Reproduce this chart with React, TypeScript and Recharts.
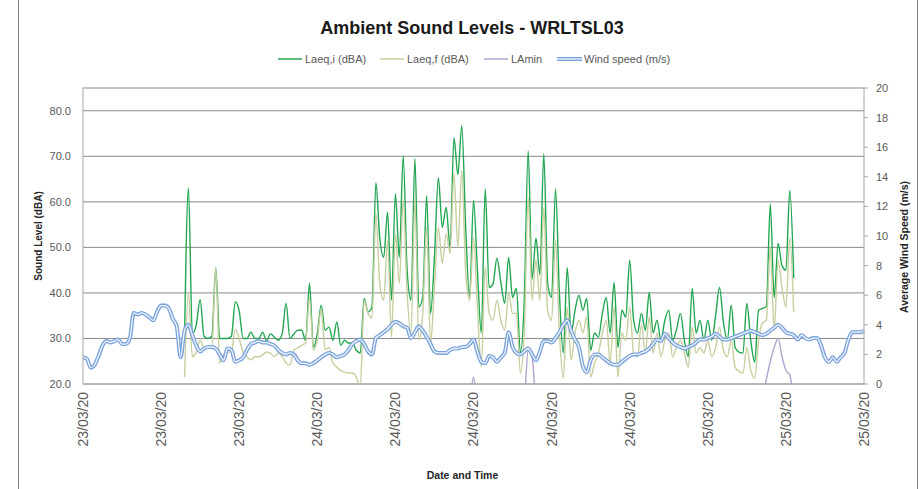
import React from "react";
import { LineChart, Line, XAxis, YAxis, CartesianGrid } from "recharts";

// x values are quarter-hour steps from the first reading (0..200)
const dateLabels = [
  "23/03/20", "23/03/20", "23/03/20",
  "24/03/20", "24/03/20", "24/03/20", "24/03/20", "24/03/20",
  "25/03/20", "25/03/20", "25/03/20",
];
const labelTicks = [0, 20, 40, 60, 80, 100, 120, 140, 160, 180, 200];
const soundTicks = [20, 30, 40, 50, 60, 70, 80];
const windTicks = [0, 2, 4, 6, 8, 10, 12, 14, 16, 18, 20];

// sound level readings begin at step 26
const soundStart = 26;

const laeqI = [
  30, 63, 31, 33, 38.5, 30.5, 30, 30.5, 45.5, 30,
  30, 30, 30.5, 38, 36, 30, 30, 31.4, 30, 30,
  31.4, 29.5, 31, 30.3, 29.6, 31, 37.7, 30, 31, 31.8,
  31.8, 29.6, 42.1, 28, 31, 37.3, 31.8, 32.5, 29.6, 33.6,
  28.5, 29.6, 29, 29, 27.4, 26.8, 38.8, 35.8, 36.9, 64.2,
  52, 47.8, 57.7, 38.4, 61.8, 47.8, 70.1, 45, 38.4, 69.5,
  36.9, 39, 61.4, 35.5, 47.8, 65.3, 54.4, 58.8, 50, 74.1,
  66, 76.7, 54.4, 39, 60.3, 45, 31.2, 62.9, 41.2, 42,
  47.6, 42.3, 37.7, 47.8, 39, 41, 26.8, 38.4, 71.2, 43,
  52, 44, 70.6, 42, 39, 62.9, 39.9, 26.8, 45.6, 31.2,
  36.2, 39.5, 36.2, 38.8, 27.4, 31.2, 30.3, 35.5, 39, 31.2,
  42.3, 28, 36.2, 34.7, 47.2, 34, 31.2, 35.5, 31.8, 40.1,
  31.2, 34, 29.6, 34, 36.2, 29.6, 32, 35.5, 29.6, 26,
  41, 31.2, 34, 29.6, 34, 29.6, 35, 41.2, 33.6, 29.6,
  37.3, 28, 27, 26.8, 37.7, 29.6, 24.8, 36.2, 36.6, 37,
  59.6, 39, 50.9, 46, 45, 62.5, 43.2,
];

const laeqF = [
  21.5, 40, 26, 27, 29.6, 28, 28, 28, 45.4, 24.6,
  26.5, 27, 27, 32, 30, 27, 26, 25.3, 26, 26,
  26.4, 27, 26.8, 26, 26.8, 26, 24.6, 24.2, 27.4, 27.9,
  28.5, 29, 39, 27.5, 29.6, 36.6, 27.5, 28, 24.6, 23.7,
  23, 22.6, 22.4, 22.4, 21.5, 19, 38.4, 35.5, 34.5, 57.4,
  42, 38.4, 51.5, 30.3, 53, 42.1, 60.3, 40, 31.2, 60.3,
  29.6, 35.5, 54.4, 29, 41.2, 54.4, 46.5, 53, 48.7, 66.2,
  50, 66.9, 44.3, 38.4, 52.2, 36.9, 23.7, 45.6, 35.5, 34,
  38.4, 34, 31.8, 39.9, 35.5, 35.5, 22.4, 31.2, 61, 38.4,
  47.2, 38.4, 58.8, 36, 34, 51.5, 31.2, 21.3, 36.9, 25.3,
  31.2, 34, 31.2, 34.7, 21.5, 24.6, 26.8, 31.2, 34, 24.6,
  36.9, 21.5, 31.2, 29.6, 36.9, 26.8, 26, 33, 26.8, 34.7,
  26.8, 31.2, 26, 29.6, 31.2, 26, 28, 29.6, 26.8, 23.7,
  32.5, 26.8, 28, 26.8, 29.6, 26, 28, 32.5, 27.4, 26,
  29.6, 23.7, 22.8, 22.4, 28, 23, 21.3, 29.6, 33.4, 34,
  50, 31.8, 47.2, 41.2, 36.9, 52, 35.8,
];

const laMin = [
  17.2, 16.8, 16.5, 17.0, 17.4, 16.9, 16.6, 17.1, 17.5, 16.8,
  16.4, 16.9, 17.2, 16.7, 16.3, 16.8, 17.0, 16.6, 16.9, 17.3,
  16.8, 16.5, 16.9, 16.4, 16.0, 15.7, 15.4, 15.9, 16.2, 16.5,
  16.1, 15.8, 16.4, 15.9, 16.2, 16.6, 15.8, 15.5, 15.2, 15.0,
  14.8, 14.6, 14.5, 14.3, 14.2, 14.0, 15.8, 16.5, 17.0, 17.8,
  17.4, 17.9, 18.2, 17.6, 18.1, 17.8, 18.4, 17.5, 17.9, 18.3,
  17.4, 17.8, 18.2, 17.3, 17.9, 18.4, 18.0, 18.3, 17.7, 18.5,
  18.1, 18.6, 17.6, 16.9, 21.5, 16.4, 15.6, 17.2, 17.5, 17.0,
  17.6, 17.3, 16.8, 17.5, 17.1, 17.3, 15.2, 16.6, 27.5, 26.0,
  16.8, 17.2, 17.9, 17.1, 16.8, 17.6, 16.5, 15.1, 16.9, 15.8,
  16.4, 16.8, 16.5, 16.9, 14.9, 15.6, 16.0, 16.6, 16.9, 15.7,
  16.8, 14.8, 16.2, 16.1, 16.7, 15.8, 15.6, 16.5, 15.9, 16.6,
  15.8, 16.3, 15.6, 16.0, 16.2, 15.5, 15.8, 16.1, 15.7, 15.0,
  16.3, 15.7, 15.9, 15.6, 16.0, 15.4, 15.8, 16.4, 15.9, 15.5,
  16.0, 15.1, 14.8, 14.6, 15.6, 14.9, 14.4, 15.5, 17.0, 21.0,
  25.0, 28.0, 30.0, 26.0, 23.0, 22.0, 16.0,
];

const windSpeed = [
  1.8, 1.7, 1.1, 1.3, 1.9, 2.6, 2.9, 2.8, 2.9, 3.0,
  2.7, 2.7, 3.1, 4.8, 4.7, 4.8, 4.7, 4.5, 4.3, 4.9,
  5.3, 5.3, 5.1, 4.4, 3.9, 1.8, 3.6, 4.0, 3.3, 2.6,
  2.2, 2.4, 2.5, 2.5, 2.4, 2.0, 1.6, 2.4, 2.3, 1.5,
  1.6, 1.8, 2.3, 2.7, 2.8, 2.9, 2.8, 2.8, 2.7, 2.6,
  2.3, 2.1, 2.0, 2.1, 2.0, 1.6, 1.4, 1.4, 1.3, 1.4,
  1.6, 1.8, 2.0, 2.1, 2.0, 1.8, 1.9, 2.0, 2.3, 2.7,
  2.9, 3.0, 2.7, 2.2, 2.0, 3.1, 3.3, 3.5, 3.7, 4.0,
  4.2, 4.1, 3.9, 3.8, 3.1, 3.5, 3.9, 3.6, 3.2, 2.7,
  2.2, 2.1, 2.1, 2.1, 2.3, 2.4, 2.4, 2.5, 2.5, 2.7,
  3.0, 2.2, 1.5, 1.4, 1.9, 1.8, 1.5, 1.8, 2.1, 3.5,
  2.5, 2.1, 2.0, 2.2, 2.4, 2.0, 1.6, 2.2, 2.9, 2.9,
  2.8, 3.1, 3.5, 4.0, 4.3, 3.6, 3.0, 2.5, 1.2, 0.8,
  1.6, 2.0, 2.0, 1.8, 1.6, 1.4, 1.3, 1.3, 1.5, 1.7,
  1.9, 2.0, 2.0, 2.1, 2.2, 2.4, 2.7, 3.0, 2.9, 3.4,
  3.1, 2.8, 2.6, 2.5, 2.4, 2.5, 2.6, 2.8, 3.0, 3.0,
  3.1, 3.2, 3.4, 3.2, 3.0, 3.0, 3.1, 3.2, 3.3, 3.4,
  3.5, 3.6, 3.5, 3.4, 3.3, 3.4, 3.6, 3.8, 4.0, 3.8,
  3.5, 3.4, 3.3, 3.0, 3.3, 3.1, 3.0, 3.1, 3.1, 2.6,
  1.8, 1.5, 1.8, 1.5, 1.8, 2.1, 3.0, 3.5, 3.5, 3.5,
  3.6,
];

const pick = (arr: number[], i: number) => {
  const k = i - soundStart;
  return k >= 0 && k < arr.length ? arr[k] : null;
};

const chartData = windSpeed.map((wind, i) => ({
  t: i,
  wind,
  laeqI: pick(laeqI, i),
  laeqF: pick(laeqF, i),
  laMin: pick(laMin, i),
}));

const GREEN = "#22a652";
const KHAKI = "#c6cf9e";
const LAVENDER = "#b4a2cf";
const BLUE = "#7ba3dc";
const BLUE_INNER = "#f2f6fc";
const TICK = "#595959";
const FONT = "'Liberation Sans', Arial, sans-serif";

const legendItems = [
  { name: "Laeq,i (dBA)", color: GREEN, x: 278 },
  { name: "Laeq,f (dBA)", color: KHAKI, x: 380 },
  { name: "LAmin", color: LAVENDER, x: 484 },
  { name: "Wind speed (m/s)", color: BLUE, x: 557, double: true },
];

const DateTick = ({ x, y, payload }: any) => (
  <g transform={`translate(${x},${y}) rotate(-90)`}>
    <text textAnchor="end" dy="0.35em" fill={TICK} fontSize={14}>
      {dateLabels[labelTicks.indexOf(payload.value)]}
    </text>
  </g>
);

const App = () => {
  return (
    <div
      style={{
        position: "absolute",
        left: 0,
        top: 0,
        width: 920,
        height: 489,
        background: "#fff",
        fontFamily: FONT,
      }}
    >
      <LineChart
        width={920}
        height={489}
        data={chartData}
        margin={{ top: 88, right: 0, bottom: 0, left: 0 }}
      >
        <CartesianGrid
          yAxisId="left"
          vertical={false}
          stroke="#8a8a8a"
          strokeWidth={1}
        />
        <XAxis
          dataKey="t"
          type="number"
          domain={[0, 200]}
          ticks={labelTicks}
          height={105}
          tick={<DateTick />}
          tickLine={false}
          axisLine={{ stroke: "#a6a6a6" }}
          label={{
            content: ({ viewBox }: any) => (
              <text
                x={viewBox.x + viewBox.width / 2 - 11}
                y={479}
                textAnchor="middle"
                fontSize={10.5}
                fontWeight="bold"
                fill="#262626"
              >
                Date and Time
              </text>
            ),
          }}
        />
        <YAxis
          yAxisId="left"
          domain={[20, 85]}
          ticks={soundTicks}
          allowDataOverflow
          width={83}
          tickFormatter={(v: number) => v.toFixed(1)}
          tickLine={false}
          tickSize={6}
          tickMargin={6}
          axisLine={{ stroke: "#a6a6a6" }}
          tick={{ fill: TICK, fontSize: 11 }}
          label={{
            content: ({ viewBox }: any) => {
              const cy = viewBox.y + viewBox.height / 2;
              return (
                <text
                  transform={`translate(42,${cy}) rotate(-90)`}
                  textAnchor="middle"
                  fontSize={10}
                  fontWeight="bold"
                  fill="#262626"
                >
                  Sound Level (dBA)
                </text>
              );
            },
          }}
        />
        <YAxis
          yAxisId="right"
          orientation="right"
          domain={[0, 20]}
          ticks={windTicks}
          width={56}
          tickSize={4}
          tickMargin={8}
          tickLine={{ stroke: "#a6a6a6" }}
          axisLine={{ stroke: "#a6a6a6" }}
          tick={{ fill: TICK, fontSize: 11 }}
          label={{
            content: ({ viewBox }: any) => (
              <text
                transform={`translate(908,247) rotate(-90)`}
                textAnchor="middle"
                fontSize={10.5}
                fontWeight="bold"
                fill="#262626"
              >
                Average Wind Speed (m/s)
              </text>
            ),
          }}
        />
        <Line
          yAxisId="left"
          dataKey="laeqI"
          type="monotone"
          stroke={GREEN}
          strokeWidth={1.4}
          dot={false}
          isAnimationActive={false}
        />
        <Line
          yAxisId="left"
          dataKey="laeqF"
          type="monotone"
          stroke={KHAKI}
          strokeWidth={1.4}
          dot={false}
          isAnimationActive={false}
        />
        <Line
          yAxisId="left"
          dataKey="laMin"
          type="monotone"
          stroke={LAVENDER}
          strokeWidth={1.4}
          dot={false}
          isAnimationActive={false}
        />
        <Line
          yAxisId="right"
          dataKey="wind"
          type="monotone"
          stroke={BLUE}
          strokeWidth={4}
          dot={false}
          isAnimationActive={false}
        />
        <Line
          yAxisId="right"
          dataKey="wind"
          type="monotone"
          stroke={BLUE_INNER}
          strokeWidth={1.3}
          dot={false}
          legendType="none"
          isAnimationActive={false}
        />
      </LineChart>

      {/* title, legend and frame */}
      <svg
        width={920}
        height={489}
        style={{ position: "absolute", left: 0, top: 0, pointerEvents: "none" }}
      >
        <line x1={18.5} y1={0} x2={18.5} y2={489} stroke="#7f7f7f" />
        <line x1={917.5} y1={0} x2={917.5} y2={489} stroke="#7f7f7f" />
        <text
          x={472}
          y={34}
          textAnchor="middle"
          fontSize={18}
          fontWeight="bold"
          fill="#1a1a1a"
        >
          Ambient Sound Levels - WRLTSL03
        </text>
        {legendItems.map((item) => (
          <g key={item.name}>
            {item.double ? (
              <>
                <line x1={item.x} y1={59} x2={item.x + 25} y2={59} stroke={BLUE} strokeWidth={4} />
                <line x1={item.x} y1={59} x2={item.x + 25} y2={59} stroke={BLUE_INNER} strokeWidth={1.3} />
              </>
            ) : (
              <line x1={item.x} y1={59} x2={item.x + 24} y2={59} stroke={item.color} strokeWidth={1.5} />
            )}
            <text x={item.x + 27} y={63} fontSize={11} fill={TICK}>
              {item.name}
            </text>
          </g>
        ))}
      </svg>
    </div>
  );
};

export default App;
